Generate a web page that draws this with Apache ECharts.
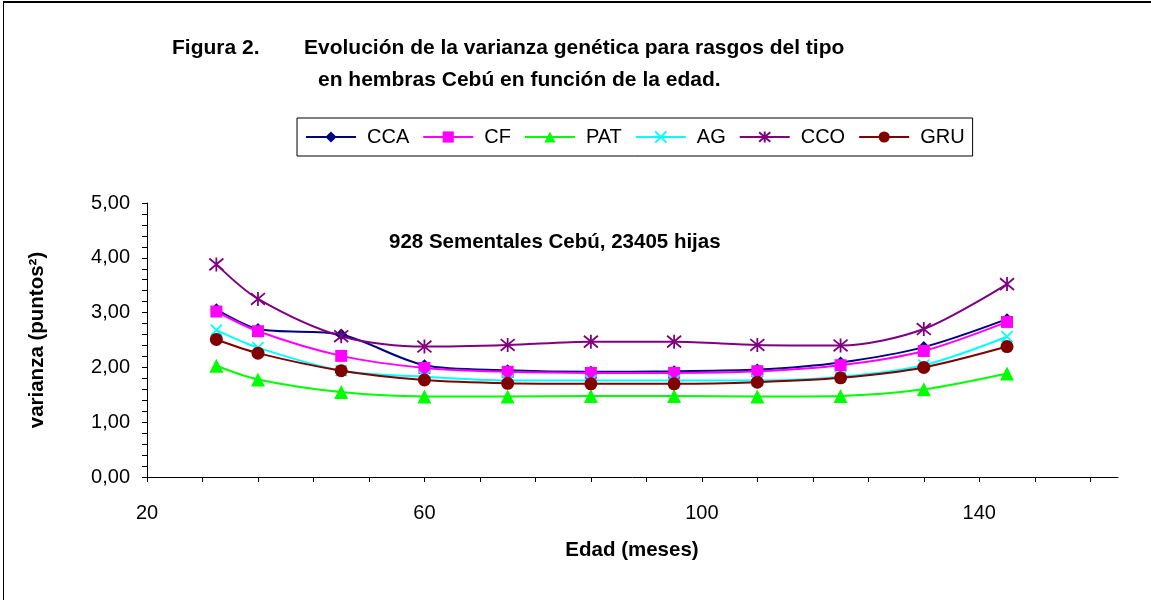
<!DOCTYPE html>
<html><head><meta charset="utf-8">
<script src="https://cdn.jsdelivr.net/npm/echarts@6/dist/echarts.min.js"></script>
<style>html,body{margin:0;padding:0;background:#fff}#c{width:1151px;height:600px}</style>
</head><body><div id="c"></div>
<script>
// ---- data ----
const ages = [30, 36, 48, 60, 72, 84, 96, 108, 120, 132, 144];
const seriesNames = ['CCA', 'CF', 'PAT', 'AG', 'CCO', 'GRU'];
const CCA = [3.06, 2.70, 2.60, 2.04, 1.95, 1.92, 1.93, 1.96, 2.09, 2.37, 2.88];
const CF  = [3.02, 2.66, 2.21, 1.99, 1.92, 1.90, 1.90, 1.93, 2.04, 2.30, 2.83];
const PAT = [2.03, 1.78, 1.55, 1.47, 1.47, 1.48, 1.48, 1.47, 1.48, 1.60, 1.89];
const AG  = [2.68, 2.36, 1.94, 1.83, 1.76, 1.76, 1.76, 1.76, 1.83, 2.04, 2.56];
const CCO = [3.88, 3.25, 2.57, 2.38, 2.41, 2.47, 2.47, 2.41, 2.40, 2.70, 3.52];
const GRU = [2.51, 2.26, 1.94, 1.77, 1.71, 1.70, 1.70, 1.73, 1.81, 2.00, 2.38];
const xTickValues = [20, 28, 36, 44, 52, 60, 68, 76, 84, 92, 100, 108, 116, 124, 132, 140, 148, 156];
const xLabelValues = [20, 60, 100, 140];
const titleLead = 'Figura 2.';
const titleLine1 = 'Evolución de la varianza genética para rasgos del tipo';
const titleLine2 = 'en hembras Cebú en función de la edad.';
const annotation = '928 Sementales Cebú, 23405 hijas';
const xName = 'Edad (meses)';
const yName = 'varianza (puntos²)';

// ---- styles ----
const FONT = "'Liberation Sans', Arial, sans-serif";
const styles = {
  CCA: { color: '#000080', symbol: 'diamond', size: 12 },
  CF:  { color: '#FF00FF', symbol: 'rect', size: 12 },
  PAT: { color: '#00FF00', symbol: 'triangle', size: 14 },
  AG:  { color: '#00FFFF', symbol: 'path://M0,0L10,10M10,0L0,10', size: 11, stroke: true },
  CCO: { color: '#800080', symbol: 'path://M0,0L10,10M10,0L0,10M5,-1L5,11', size: 14, stroke: true },
  GRU: { color: '#800000', symbol: 'circle', size: 13 }
};
const values = { CCA, CF, PAT, AG, CCO, GRU };

const series = seriesNames.map(n => {
  const s = styles[n];
  return {
    name: n,
    type: 'line',
    smooth: 0.3,
    data: ages.map((a, i) => [a, values[n][i]]),
    symbol: s.symbol,
    symbolSize: s.size,
    showAllSymbol: true,
    lineStyle: { color: s.color, width: 2 },
    itemStyle: s.stroke
      ? { color: 'rgba(0,0,0,0)', borderColor: s.color, borderWidth: 1.8 }
      : { color: s.color, borderWidth: 0 },
    emphasis: { disabled: true },
    animation: false
  };
});

const chart = echarts.init(document.getElementById('c'));
chart.setOption({
  animation: false,
  backgroundColor: '#fff',
  grid: { left: 147, right: 33, top: 203, bottom: 123 },
  legend: {
    data: seriesNames,
    left: 297, top: 118,
    orient: 'horizontal',
    itemWidth: 50, itemHeight: 14, itemGap: 13,
    padding: [9, 8, 9, 8],
    borderColor: '#000', borderWidth: 1,
    textStyle: { fontFamily: FONT, fontSize: 20, color: '#000', padding: [0, 0, 0, 6] },
    inactiveColor: '#000'
  },
  xAxis: {
    type: 'value', min: 20, max: 160,
    axisLine: { show: true, onZero: false, lineStyle: { color: '#000', width: 1 } },
    axisTick: { show: true, customValues: xTickValues, length: 5, inside: false, lineStyle: { color: '#000' } },
    axisLabel: { customValues: xLabelValues, margin: 26, fontFamily: FONT, fontSize: 20, color: '#000' },
    splitLine: { show: false }
  },
  yAxis: {
    type: 'value', min: 0, max: 5, interval: 1,
    axisLine: { show: true, lineStyle: { color: '#000', width: 1 } },
    axisTick: { show: true, length: 5, lineStyle: { color: '#000' } },
    minorTick: { show: true, splitNumber: 5, length: 5, lineStyle: { color: '#000' } },
    axisLabel: { margin: 17, fontFamily: FONT, fontSize: 20, color: '#000',
      formatter: v => v.toFixed(2).replace('.', ',') },
    splitLine: { show: false }
  },
  series: series,
  graphic: [
    { type: 'line', shape: { x1: 3, y1: 2, x2: 1151, y2: 2 }, style: { stroke: '#000', lineWidth: 2 } },
    { type: 'line', shape: { x1: 3.5, y1: 2, x2: 3.5, y2: 600 }, style: { stroke: '#000', lineWidth: 1 } },
    { type: 'text', x: 172, y: 48, style: { text: titleLead, font: 'bold 21px ' + FONT, fill: '#000', verticalAlign: 'middle' } },
    { type: 'text', x: 304, y: 48, style: { text: titleLine1, font: 'bold 21px ' + FONT, fill: '#000', verticalAlign: 'middle' } },
    { type: 'text', x: 318, y: 80, style: { text: titleLine2, font: 'bold 21px ' + FONT, fill: '#000', verticalAlign: 'middle' } },
    { type: 'text', x: 389, y: 242, style: { text: annotation, font: 'bold 20.5px ' + FONT, fill: '#000', verticalAlign: 'middle' } },
    { type: 'text', x: 632, y: 550, style: { text: xName, font: 'bold 20.5px ' + FONT, fill: '#000', align: 'center', verticalAlign: 'middle' } },
    { type: 'text', x: 37, y: 340, rotation: Math.PI / 2, style: { text: yName, font: 'bold 20.5px ' + FONT, fill: '#000', align: 'center', verticalAlign: 'middle' } }
  ]
});
</script>
</body></html>
